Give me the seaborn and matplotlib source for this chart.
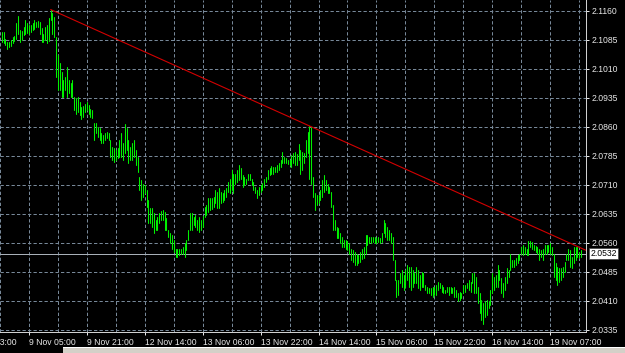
import matplotlib
matplotlib.use("Agg")
import matplotlib.pyplot as plt
import seaborn as sns
import pandas as pd
from matplotlib import transforms
from matplotlib.patches import Rectangle

# ---------------- data (M30 bars, high / low) ----------------
highs = [
    2.1106, 2.1106, 2.1088, 2.1080, 2.1080, 2.1084, 2.1093, 2.1095, 2.1129, 2.1146,
    2.1110, 2.1108, 2.1119, 2.1136, 2.1127, 2.1123, 2.1123, 2.1129, 2.1136, 2.1132,
    2.1134, 2.1132, 2.1114, 2.1101, 2.1119, 2.1123, 2.1140, 2.1163, 2.1153, 2.1145,
    2.1093, 2.1045, 2.1024, 2.1002, 2.0981, 2.0989, 2.1015, 2.0981, 2.0972, 2.0982,
    2.0938, 2.0933, 2.0936, 2.0925, 2.0912, 2.0914, 2.0919, 2.0925, 2.0916, 2.0905,
    2.0903, 2.0870,
    2.0870, 2.0860, 2.0856, 2.0843, 2.0839, 2.0843, 2.0847, 2.0843, 2.0826, 2.0808,
    2.0804, 2.0800, 2.0804, 2.0826, 2.0843, 2.0817, 2.0867, 2.0856, 2.0826, 2.0808,
    2.0817, 2.0826, 2.0800, 2.0782, 2.0731, 2.0722, 2.0713, 2.0709, 2.0696, 2.0670,
    2.0649, 2.0649, 2.0636, 2.0619, 2.0627, 2.0636, 2.0643, 2.0644, 2.0640, 2.0623,
    2.0593, 2.0584, 2.0580, 2.0567, 2.0545, 2.0545, 2.0545, 2.0545, 2.0548, 2.0558,
    2.0567, 2.0593, 2.0636,
    2.0636, 2.0627, 2.0632, 2.0619, 2.0627, 2.0619, 2.0629, 2.0653, 2.0657, 2.0675,
    2.0675, 2.0675, 2.0679, 2.0696, 2.0692, 2.0701, 2.0692, 2.0688, 2.0696, 2.0701,
    2.0718, 2.0726, 2.0748, 2.0739, 2.0739, 2.0748, 2.0761, 2.0752, 2.0735, 2.0731,
    2.0726, 2.0738, 2.0739, 2.0726, 2.0718, 2.0705, 2.0696, 2.0705, 2.0709, 2.0715,
    2.0726, 2.0731, 2.0748, 2.0752, 2.0758, 2.0757, 2.0757, 2.0761, 2.0767, 2.0774,
    2.0795, 2.0782, 2.0778, 2.0775, 2.0774,
    2.0787, 2.0791, 2.0795, 2.0789, 2.0815, 2.0800, 2.0795, 2.0791, 2.0826, 2.0847,
    2.0862, 2.0860, 2.0731, 2.0688, 2.0683, 2.0683, 2.0696, 2.0722, 2.0735, 2.0722,
    2.0713, 2.0705, 2.0692, 2.0657, 2.0619, 2.0601, 2.0597, 2.0584, 2.0576, 2.0567,
    2.0567, 2.0565, 2.0558, 2.0545, 2.0541, 2.0537, 2.0532, 2.0528, 2.0537, 2.0545,
    2.0550, 2.0580, 2.0580, 2.0574, 2.0576, 2.0576, 2.0574, 2.0571, 2.0574, 2.0571,
    2.0584,
    2.0619, 2.0610, 2.0601, 2.0593, 2.0584, 2.0576, 2.0515, 2.0464, 2.0464, 2.0481,
    2.0489, 2.0476, 2.0489, 2.0502, 2.0498, 2.0498, 2.0489, 2.0481, 2.0498, 2.0489,
    2.0476, 2.0485, 2.0481, 2.0451, 2.0446, 2.0442, 2.0442, 2.0446, 2.0446, 2.0451,
    2.0459, 2.0455, 2.0451, 2.0446, 2.0438, 2.0446, 2.0446, 2.0446, 2.0442, 2.0446,
    2.0438, 2.0429, 2.0433, 2.0429, 2.0451, 2.0451, 2.0455, 2.0464, 2.0459, 2.0481,
    2.0481, 2.0472,
    2.0446, 2.0429, 2.0412, 2.0403, 2.0408, 2.0412, 2.0408, 2.0438, 2.0481, 2.0472,
    2.0476, 2.0502, 2.0489, 2.0468, 2.0455, 2.0472, 2.0494, 2.0489, 2.0531, 2.0515,
    2.0515, 2.0520, 2.0528, 2.0532, 2.0550, 2.0554, 2.0550, 2.0545, 2.0565, 2.0565,
    2.0563, 2.0554, 2.0551, 2.0550, 2.0545, 2.0541, 2.0545, 2.0554, 2.0554, 2.0554,
    2.0558, 2.0550, 2.0532, 2.0507, 2.0498, 2.0494, 2.0494, 2.0498, 2.0511, 2.0532,
    2.0545, 2.0541, 2.0524, 2.0550, 2.0548, 2.0548, 2.0537, 2.0541,
]
lows = [
    2.1080, 2.1076, 2.1071, 2.1060, 2.1067, 2.1069, 2.1076, 2.1082, 2.1086, 2.1101,
    2.1080, 2.1084, 2.1097, 2.1101, 2.1103, 2.1101, 2.1106, 2.1110, 2.1112, 2.1117,
    2.1119, 2.1101, 2.1080, 2.1080, 2.1084, 2.1076, 2.1082, 2.1136, 2.1101, 2.1093,
    2.0989, 2.0955, 2.0955, 2.0936, 2.0936, 2.0955, 2.0938, 2.0946, 2.0938, 2.0936,
    2.0903, 2.0894, 2.0899, 2.0890, 2.0879, 2.0886, 2.0899, 2.0903, 2.0894, 2.0884,
    2.0882, 2.0826,
    2.0843, 2.0834, 2.0826, 2.0817, 2.0819, 2.0826, 2.0830, 2.0826, 2.0782, 2.0774,
    2.0769, 2.0774, 2.0778, 2.0782, 2.0782, 2.0774, 2.0791, 2.0800, 2.0765, 2.0774,
    2.0774, 2.0782, 2.0761, 2.0744, 2.0696, 2.0670, 2.0679, 2.0688, 2.0653, 2.0610,
    2.0610, 2.0601, 2.0584, 2.0593, 2.0593, 2.0610, 2.0619, 2.0619, 2.0593, 2.0593,
    2.0576, 2.0558, 2.0545, 2.0537, 2.0522, 2.0524, 2.0528, 2.0532, 2.0531, 2.0524,
    2.0541, 2.0567, 2.0593,
    2.0593, 2.0606, 2.0601, 2.0593, 2.0589, 2.0593, 2.0601, 2.0627, 2.0632, 2.0640,
    2.0644, 2.0646, 2.0653, 2.0662, 2.0649, 2.0649, 2.0662, 2.0666, 2.0670, 2.0679,
    2.0692, 2.0688, 2.0696, 2.0688, 2.0713, 2.0718, 2.0722, 2.0726, 2.0705, 2.0709,
    2.0713, 2.0722, 2.0722, 2.0709, 2.0696, 2.0688, 2.0675, 2.0683, 2.0692, 2.0696,
    2.0705, 2.0718, 2.0726, 2.0735, 2.0739, 2.0739, 2.0744, 2.0744, 2.0748, 2.0757,
    2.0765, 2.0765, 2.0765, 2.0763, 2.0761,
    2.0757, 2.0765, 2.0761, 2.0761, 2.0774, 2.0739, 2.0748, 2.0765, 2.0782, 2.0791,
    2.0726, 2.0713, 2.0679, 2.0644, 2.0657, 2.0662, 2.0670, 2.0679, 2.0692, 2.0696,
    2.0688, 2.0688, 2.0653, 2.0593, 2.0593, 2.0571, 2.0571, 2.0558, 2.0550, 2.0548,
    2.0545, 2.0541, 2.0532, 2.0515, 2.0511, 2.0502, 2.0502, 2.0507, 2.0511, 2.0517,
    2.0520, 2.0532, 2.0554, 2.0558, 2.0560, 2.0563, 2.0558, 2.0560, 2.0563, 2.0558,
    2.0563,
    2.0584, 2.0576, 2.0567, 2.0567, 2.0558, 2.0515, 2.0464, 2.0420, 2.0425, 2.0455,
    2.0446, 2.0438, 2.0446, 2.0464, 2.0446, 2.0438, 2.0446, 2.0455, 2.0455, 2.0442,
    2.0438, 2.0446, 2.0446, 2.0438, 2.0429, 2.0429, 2.0425, 2.0420, 2.0425, 2.0425,
    2.0438, 2.0442, 2.0433, 2.0429, 2.0429, 2.0433, 2.0425, 2.0429, 2.0429, 2.0420,
    2.0420, 2.0408, 2.0412, 2.0416, 2.0429, 2.0433, 2.0442, 2.0438, 2.0433, 2.0455,
    2.0429, 2.0429,
    2.0403, 2.0377, 2.0360, 2.0351, 2.0369, 2.0373, 2.0390, 2.0399, 2.0429, 2.0438,
    2.0446, 2.0446, 2.0464, 2.0429, 2.0420, 2.0438, 2.0455, 2.0472, 2.0489, 2.0498,
    2.0498, 2.0502, 2.0507, 2.0515, 2.0532, 2.0528, 2.0532, 2.0528, 2.0528, 2.0550,
    2.0545, 2.0541, 2.0537, 2.0532, 2.0515, 2.0524, 2.0515, 2.0532, 2.0532, 2.0537,
    2.0532, 2.0528, 2.0472, 2.0464, 2.0451, 2.0459, 2.0464, 2.0472, 2.0485, 2.0515,
    2.0515, 2.0498, 2.0494, 2.0507, 2.0515, 2.0524, 2.0520, 2.0522,
]
bid_price = 2.0532
trend_bars = [27, 170]            # the two highs the trend line joins
trend_prices = [2.1163, 2.0862]
price_ticks = [2.1160, 2.1085, 2.1010, 2.0935, 2.0860, 2.0785,
               2.0710, 2.0635, 2.0560, 2.0485, 2.0410, 2.0335]
time_tick_bars = [15, 47, 79, 111, 143, 175, 207, 239, 271, 303]
time_tick_labels = ["9 Nov 05:00", "9 Nov 21:00", "12 Nov 14:00", "13 Nov 06:00",
                    "13 Nov 22:00", "14 Nov 14:00", "15 Nov 06:00", "15 Nov 22:00",
                    "16 Nov 14:00", "19 Nov 07:00"]
grid_only_bars = [-1, 31, 63, 95, 127, 159, 191, 223, 255, 287, 319]
cut_label_bar = -17
cut_label = "8 Nov 13:00"

# ---------------- style ----------------
sns.set_style("dark")
plt.rcParams["font.family"] = ["Liberation Sans", "DejaVu Sans"]
TXT = "#e8e8e8"
GRID = "#778899"
PX = 0.72  # one pixel in points
FS = 6.2

W, H = 625, 353
fig = plt.figure(figsize=(W / 100, H / 100), dpi=100, facecolor="black")
ax = fig.add_axes([0, (H - 332) / H, 586 / W, 332 / H])
ax.set_facecolor("black")

n = len(highs)
bars = list(range(n))
df = pd.DataFrame({
    "bar": bars + bars,
    "price": highs + lows,
})
sns.lineplot(data=df, x="bar", y="price", units="bar", estimator=None,
             color="#00f000", lw=1.05 * PX, ax=ax, legend=False, zorder=3)

x_right = 322.8
slope = (trend_prices[1] - trend_prices[0]) / (trend_bars[1] - trend_bars[0])
tdf = pd.DataFrame({
    "bar": [trend_bars[0], x_right],
    "price": [trend_prices[0], trend_prices[0] + slope * (x_right - trend_bars[0])],
})
sns.lineplot(data=tdf, x="bar", y="price", color="#d40000", lw=1.1 * PX, ax=ax,
             zorder=4)

# bid line
ax.axhline(bid_price, color="#a8b0b8", lw=PX, zorder=2)

ax.set_xlim(-0.5, x_right)
ax.set_ylim(2.03291, 2.11877)

ax.set_xticks(time_tick_bars)
ax.set_xticklabels(time_tick_labels)
ax.set_xticks(grid_only_bars, minor=True)
ax.set_yticks(price_ticks)
ax.set_yticklabels([f"{p:.4f}" for p in price_ticks])
ax.yaxis.tick_right()
ax.set_xlabel("")
ax.set_ylabel("")

dash = (0, (3.3, 2.2))
ax.grid(True, which="major", axis="both", color=GRID, lw=PX, linestyle=dash)
ax.grid(True, which="minor", axis="x", color=GRID, lw=PX, linestyle=dash)
ax.set_axisbelow(True)

ax.tick_params(axis="x", which="major", length=3 * PX, width=PX, color=TXT,
               labelcolor=TXT, labelsize=FS, pad=2.0, direction="out", bottom=True)
ax.tick_params(axis="x", which="minor", length=0)
ax.tick_params(axis="y", length=3 * PX, width=PX, color=TXT, labelcolor=TXT,
               labelsize=FS, pad=2.0, direction="out", right=True, left=False)
for t in ax.get_xticklabels():
    t.set_horizontalalignment("left")

for s in ["top", "left"]:
    ax.spines[s].set_visible(False)
for s in ["right", "bottom"]:
    ax.spines[s].set_visible(True)
    ax.spines[s].set_color("#d0d0d0")
    ax.spines[s].set_linewidth(PX)

# partially visible first time label (cut by the window edge, as in the reference)
tr = transforms.blended_transform_factory(ax.transData, ax.transAxes)
ax.annotate(cut_label, xy=(cut_label_bar, 0), xycoords=tr,
            xytext=(-1, -3 * PX - 2.0), textcoords="offset points",
            ha="left", va="top", fontsize=FS, color=TXT, annotation_clip=False)

# bid price box
ax.annotate(f"{bid_price:.4f}", xy=(1, bid_price), xycoords=("axes fraction", "data"),
            xytext=(3.2, 0), textcoords="offset points", ha="left", va="center",
            fontsize=FS, color="black", annotation_clip=False,
            bbox=dict(boxstyle="square,pad=0.15", fc="white", ec="#404040", lw=0.5))

# window frame strip at the very bottom (terminal tab bar edge)
fig.patches.append(Rectangle((63 / W, 0), 1 - 63 / W, 5 / H, transform=fig.transFigure,
                             facecolor="#d4d0c8", edgecolor="none", zorder=5))
fig.patches.append(Rectangle((63 / W, 5 / H), 1 - 63 / W, 0.8 / H, transform=fig.transFigure,
                             facecolor="#ffffff", edgecolor="none", zorder=5))

fig.savefig("out.png", dpi=100, facecolor="black")
